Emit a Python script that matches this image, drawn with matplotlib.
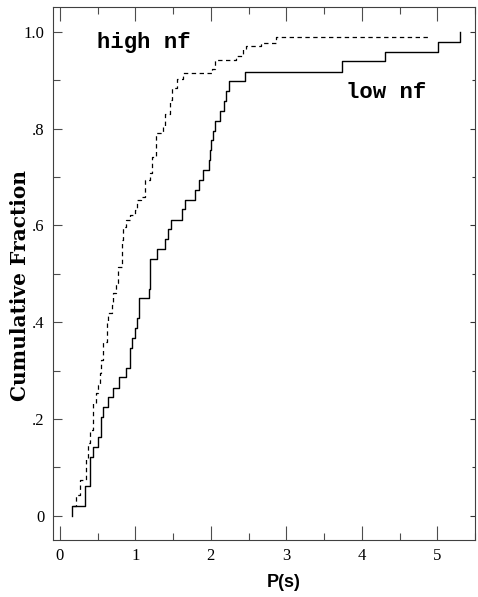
import matplotlib
matplotlib.use("Agg")
import matplotlib.pyplot as plt
from matplotlib.ticker import MultipleLocator, FixedLocator

# low nf (solid) - step positions and cumulative fraction after each step
low_x = [0.163, 0.331, 0.397, 0.433, 0.508, 0.539, 0.574, 0.640, 0.698, 0.786,
         0.883, 0.93, 0.95, 0.99, 1.02, 1.05, 1.183, 1.20, 1.29, 1.39,
         1.435, 1.466, 1.612, 1.656, 1.788, 1.845, 1.89, 1.97, 1.99, 2.00,
         2.03, 2.06, 2.12, 2.18, 2.20, 2.24, 2.45, 3.74, 4.31, 5.01, 5.30]
low_y = [0.02, 0.061, 0.122, 0.143, 0.163, 0.204, 0.224, 0.245, 0.265, 0.286,
         0.306, 0.347, 0.367, 0.388, 0.408, 0.449, 0.469, 0.531, 0.551, 0.571,
         0.592, 0.612, 0.633, 0.653, 0.673, 0.694, 0.714, 0.735, 0.755, 0.776,
         0.796, 0.816, 0.837, 0.857, 0.878, 0.898, 0.918, 0.939, 0.959, 0.98, 1.0]

# high nf (dashed)
high_x = [0.18, 0.22, 0.27, 0.34, 0.37, 0.40, 0.44, 0.48, 0.50, 0.53,
          0.55, 0.57, 0.62, 0.64, 0.69, 0.71, 0.74, 0.77, 0.82, 0.84,
          0.88, 0.93, 0.99, 1.02, 1.08, 1.13, 1.19, 1.22, 1.28, 1.37,
          1.39, 1.46, 1.48, 1.55, 1.63, 2.01, 2.05, 2.34, 2.43, 2.47,
          2.67, 2.87, 4.88]
high_y = [0.02, 0.043, 0.074, 0.12, 0.15, 0.178, 0.233, 0.254, 0.27, 0.295,
          0.322, 0.36, 0.40, 0.42, 0.435, 0.46, 0.48, 0.515, 0.57, 0.597,
          0.611, 0.621, 0.632, 0.652, 0.659, 0.694, 0.708, 0.742, 0.79, 0.804,
          0.831, 0.859, 0.883, 0.903, 0.914, 0.924, 0.941, 0.951, 0.965, 0.97,
          0.976, 0.99, 0.99]

y_ticks = [0, 0.2, 0.4, 0.6, 0.8, 1.0]
y_tick_labels = ['0', '.2', '.4', '.6', '.8', '1.0']
x_ticks = [0, 1, 2, 3, 4, 5]

fig = plt.figure(figsize=(4.78, 5.97), dpi=100)
ax = fig.add_axes([0.111, 0.0955, 0.8827, 0.8925])

ax.plot([low_x[0]] + low_x, [0.0] + low_y, drawstyle='steps-post', color='black', lw=1.0)
ln, = ax.plot(high_x, high_y, drawstyle='steps-post', color='black', lw=0.9, linestyle='--')
ln.set_dashes((3.5, 2.8))

ax.set_xlim(-0.09, 5.5)
ax.set_ylim(-0.05, 1.051)

for s in ax.spines.values():
    s.set_color('0.25')
    s.set_linewidth(0.8)

ax.set_xticks(x_ticks)
ax.set_xticklabels([str(t) for t in x_ticks], family='Liberation Serif', fontsize=12)
ax.xaxis.set_minor_locator(MultipleLocator(0.5))
ax.tick_params(axis='x', which='major', direction='in', top=True, length=10, width=0.8,
               color='0.3', pad=6)
ax.tick_params(axis='x', which='minor', direction='in', top=True, length=5, width=0.8, color='0.3')

ax.set_yticks(y_ticks)
ax.set_yticklabels(y_tick_labels, family='Liberation Serif', fontsize=12)
ax.yaxis.set_minor_locator(FixedLocator([0.1, 0.3, 0.5, 0.7, 0.9]))
ax.tick_params(axis='y', which='major', direction='in', length=6.5, width=0.8, color='0.3', pad=6)
ax.tick_params(axis='y', which='minor', direction='in', length=5, width=0.8, color='0.3')

sec = ax.secondary_yaxis('right')
sec.set_yticks(y_ticks)
sec.set_yticklabels([])
sec.yaxis.set_minor_locator(FixedLocator([0.1, 0.3, 0.5, 0.7, 0.9]))
sec.tick_params(which='major', direction='in', length=3.6, width=0.8, color='0.2')
sec.tick_params(which='minor', direction='in', length=2, width=0.8, color='0.2')
sec.spines['right'].set_visible(False)

ax.set_xlabel('P(s)', family='Liberation Sans', fontweight='bold', fontsize=13)
ax.xaxis.set_label_coords(0.547, -0.079)
ax.xaxis.label.set_va('center')
ax.set_ylabel('Cumulative Fraction', family='DejaVu Serif', fontweight='bold', fontsize=14.5)
ax.yaxis.set_label_coords(-0.078, 0.477)
ax.yaxis.label.set_va('center')

ax.text(0.49, 0.977, 'high nf', family='Liberation Mono', fontweight='bold', fontsize=16,
        va='center', ha='left')
ax.text(3.79, 0.874, 'low nf', family='Liberation Mono', fontweight='bold', fontsize=16,
        va='center', ha='left')

fig.savefig('out.png', dpi=100)
